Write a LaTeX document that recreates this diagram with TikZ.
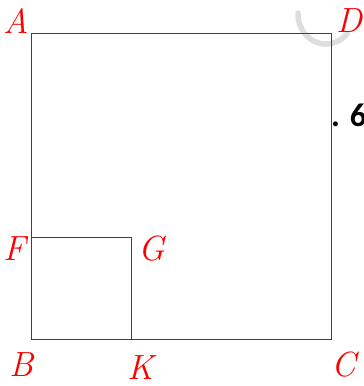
\documentclass[tikz,border=0pt]{standalone}
\usepackage{fontspec}
\newfontfamily\labfont{Carlito}
\begin{document}
\begin{tikzpicture}[x=1pt,y=-1pt,
  lbl/.style={text=red,font=\fontsize{35}{38}\selectfont\itshape,inner sep=0pt},
  edge/.style={draw=black!75,line width=0.9pt}]
\useasboundingbox (0,0) rectangle (364,386);
% gray arc
\draw[black!13,line width=5.5pt,line cap=round] (298,13) arc[start angle=182,end angle=40,x radius=28,y radius=30];
% corners
\coordinate (A) at (31,33);
\coordinate (D) at (331,33);
\coordinate (C) at (331,339);
\coordinate (B) at (31,339);
\coordinate (F) at (31,237);
\coordinate (G) at (131,237);
\coordinate (K) at (131,339);
\draw[edge] (A) -- (D) -- (C) -- (B) -- cycle;
\draw[edge] (F) -- (G) -- (K);
% labels
\node[lbl] (lA) at (16,21) {A};
\node[lbl] (lD) at (349,21) {D};
\node[lbl] (lF) at (15,249) {F};
\node[lbl] (lG) at (152,249) {G};
\node[lbl] (lB) at (22,365) {B};
\node[lbl] (lK) at (141,368) {K};
\node[lbl] (lC) at (344,365) {C};
\node[anchor=base west,inner sep=0pt,font=\labfont\bfseries\fontsize{33}{36}\selectfont] (six) at (331,126) {. 6};
\end{tikzpicture}
\end{document}
